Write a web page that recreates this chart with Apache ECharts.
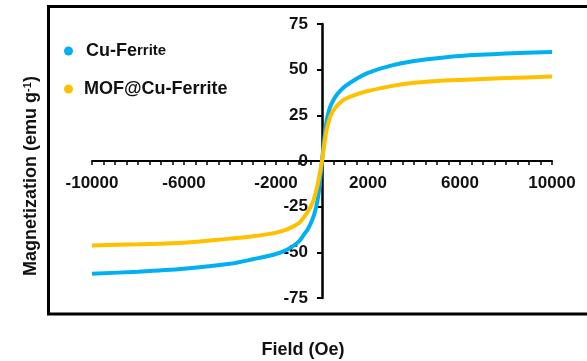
<!DOCTYPE html>
<html>
<head>
<meta charset="utf-8">
<script src="https://cdn.jsdelivr.net/npm/echarts@6/dist/echarts.min.js"></script>
<style>
  html, body { margin: 0; padding: 0; background: #fff; }
  #chart { width: 587px; height: 361px; }
</style>
</head>
<body>
<div id="chart"></div>
<script>
// Applied field (Oe)
const fieldOe = [-10000, -8000, -6000, -4000, -3000, -2000, -1500, -1000, -800, -600, -400, -300, -200, -100, 0,
                 100, 200, 300, 400, 600, 800, 1000, 1500, 2000, 3000, 4000, 5000, 6000, 8000, 10000];
// Magnetization (emu/g)
const cuFerrite = [-61.7, -60.6, -59.0, -56.3, -53.8, -50.9, -48.5, -44.0, -40.5, -37.0, -31.5, -27.5, -22.0, -13.0, 0,
                   12.0, 22.0, 27.5, 31.0, 35.5, 38.5, 40.8, 45.0, 48.3, 52.2, 54.7, 56.3, 57.5, 58.8, 59.7];
const mofCuFerrite = [-46.2, -45.6, -44.8, -42.5, -41.2, -39.2, -37.3, -34.0, -31.0, -27.5, -22.5, -18.5, -13.5, -7.0, 0,
                      9.0, 17.0, 22.0, 25.5, 29.5, 32.0, 33.9, 36.5, 38.3, 41.0, 42.8, 43.8, 44.4, 45.4, 46.2];
const seriesNames = ['Cu-Ferrite', 'MOF@Cu-Ferrite'];
const seriesColors = ['#00B0F0', '#FFC000'];
const yTicks = { min: -75, max: 75, step: 25 };
const xTicks = { min: -10000, max: 10000, step: 500, labelStep: 4000 };

const FONT = '"Liberation Sans", Arial, sans-serif';
const pairs = (xs, ys) => xs.map((x, i) => [x, ys[i]]);

// plot box; the axes cross at the origin, so each axis is shifted into the middle
const GRID = { left: 92, right: 35, top: 24, bottom: 63 };
const W = 587, H = 361;
const plotW = W - GRID.left - GRID.right;
const plotH = H - GRID.top - GRID.bottom;
const yAxisShift = -plotW * (0 - xTicks.min) / (xTicks.max - xTicks.min);
const xAxisShift = -plotH * (0 - yTicks.min) / (yTicks.max - yTicks.min);

const chart = echarts.init(document.getElementById('chart'), null, { renderer: 'canvas' });
chart.setOption({
  animation: false,
  backgroundColor: '#fff',
  grid: Object.assign({ containLabel: false, outerBoundsMode: 'none' }, GRID),
  legend: {
    orient: 'vertical',
    left: 59,
    top: 36,
    itemGap: 18,
    itemWidth: 9,
    itemHeight: 9,
    icon: 'circle',
    data: seriesNames,
    formatter: function (name) {
      return name === 'Cu-Ferrite' ? '{c|Cu-Fe}{b|rrite}' : '{a|' + name + '}';
    },
    textStyle: {
      lineHeight: 20,
      rich: {
        a: { fontFamily: FONT, fontWeight: 'bold', fontSize: 18, color: '#111', padding: [0, 0, 0, 6] },
        c: { fontFamily: FONT, fontWeight: 'bold', fontSize: 18, color: '#111', padding: [0, 0, 0, 8] },
        b: { fontFamily: FONT, fontWeight: 'bold', fontSize: 15, color: '#111' }
      }
    }
  },
  xAxis: {
    type: 'value',
    position: 'bottom',
    offset: xAxisShift,
    min: xTicks.min,
    max: xTicks.max,
    interval: xTicks.step,
    name: 'Field (Oe)',
    nameLocation: 'middle',
    nameGap: 180,
    nameTextStyle: { fontFamily: FONT, fontWeight: 'bold', fontSize: 18, color: '#111', padding: [0, 38, 0, 0] },
    axisLine: { onZero: false, lineStyle: { color: '#000', width: 2 } },
    axisTick: { show: true, length: 4, lineStyle: { color: '#000', width: 1.5 } },
    splitLine: { show: false },
    axisLabel: {
      margin: 14,
      fontFamily: FONT, fontWeight: 'bold', fontSize: 17, color: '#111',
      formatter: function (v) {
        return ((v - xTicks.min) % xTicks.labelStep === 0) ? String(v) : '';
      }
    }
  },
  yAxis: {
    type: 'value',
    position: 'left',
    offset: yAxisShift,
    min: yTicks.min,
    max: yTicks.max,
    interval: yTicks.step,
    name: '{a|Magnetization (emu g}{s|-1}{a|)}',
    nameLocation: 'middle',
    nameGap: 281,
    nameTextStyle: {
      padding: [0, 30, 0, 0],
      rich: {
        a: { fontFamily: FONT, fontWeight: 'bold', fontSize: 18, color: '#111' },
        s: { fontFamily: FONT, fontWeight: 'bold', fontSize: 11, color: '#111', verticalAlign: 'top', padding: [0, 0, 8, 0] }
      }
    },
    axisLine: { show: true, onZero: false, lineStyle: { color: '#000', width: 2.5 } },
    axisTick: { show: true, length: 5, lineStyle: { color: '#000', width: 2 } },
    splitLine: { show: false },
    axisLabel: { margin: 14, fontFamily: FONT, fontWeight: 'bold', fontSize: 17, color: '#111' }
  },
  series: [
    {
      name: seriesNames[0], type: 'line', smooth: 0.3, showSymbol: false,
      color: seriesColors[0], lineStyle: { width: 4, color: seriesColors[0] },
      data: pairs(fieldOe, cuFerrite), z: 2
    },
    {
      name: seriesNames[1], type: 'line', smooth: 0.3, showSymbol: false,
      color: seriesColors[1], lineStyle: { width: 4, color: seriesColors[1] },
      data: pairs(fieldOe, mofCuFerrite), z: 3
    }
  ],
  graphic: [
    {
      type: 'rect', silent: true, z: 10,
      shape: { x: 48.5, y: 6.5, width: 600, height: 307.5 },
      style: { fill: 'none', stroke: '#000', lineWidth: 3 }
    }
  ]
});
</script>
</body>
</html>
